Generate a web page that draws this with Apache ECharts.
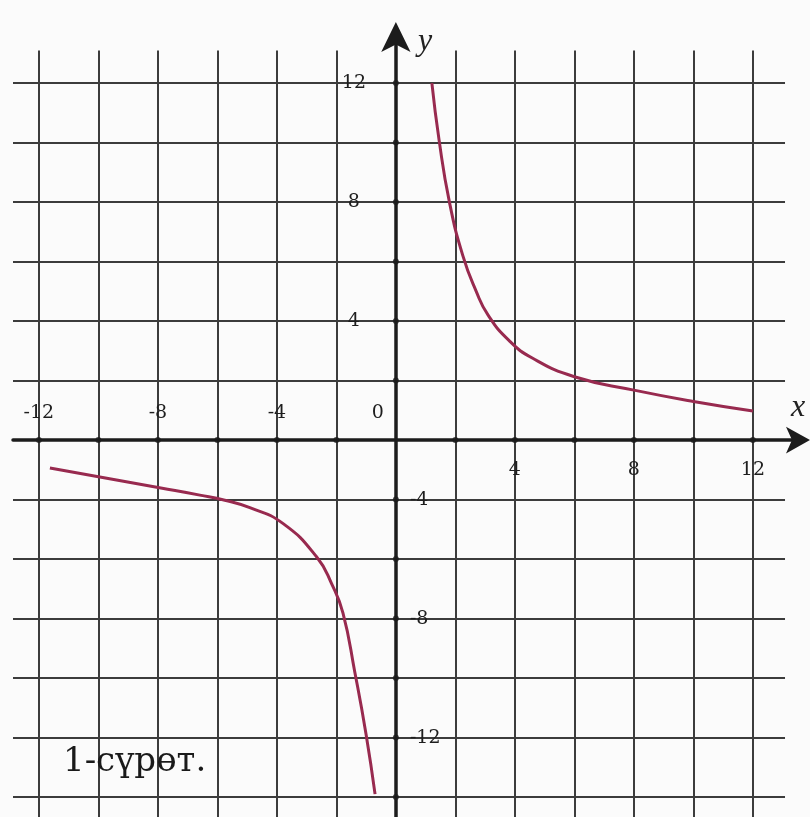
<!DOCTYPE html>
<html>
<head>
<meta charset="utf-8">
<script src="https://cdn.jsdelivr.net/npm/echarts@6/dist/echarts.min.js"></script>
<style>
  html, body { margin: 0; padding: 0; background: #fbfbfb; }
  #chart { width: 810px; height: 817px; }
</style>
</head>
<body>
<div id="chart"></div>
<script>
// Ruled paper: one line every 2 units
const gridX = [-12, -10, -8, -6, -4, -2, 2, 4, 6, 8, 10, 12];
const gridY = [-12, -10, -8, -6, -4, -2, 2, 4, 6, 8, 10, 12];

// Tick labels
const xLabelsBelow = [4, 8, 12];
const xLabelsAbove = [-12, -8, -4, 0];
const yLabelsLeft = [4, 8, 12];
const yLabelsRightPos = [-2, -6, -10];
const yLabelsRightText = ['-4', '-8', '-12'];

// Hyperbola, right branch
const rightX = [1.21, 1.45, 1.8, 2.25, 2.7, 3.1, 3.8, 4.6, 6.0, 8, 10, 12];
const rightY = [12, 10.1, 8.0, 6.2, 5.0, 4.2, 3.35, 2.75, 2.13, 1.68, 1.3, 0.98];

// Hyperbola, left branch
const leftX = [-11.63, -9.95, -7.9, -6.59, -5.75, -4.91, -3.8, -2.66, -2.15, -1.78, -1.38, -1.0, -0.7];
const leftY = [-0.94, -1.24, -1.61, -1.85, -2.02, -2.27, -2.8, -3.93, -4.85, -5.81, -7.8, -9.9, -11.9];

const caption = '1-сүрөт.';

// Axis extents, scale and how far the ruled lines reach
const X_MIN = -12.87, X_MAX = 13.55;
const Y_MIN = -12.67, Y_MAX = 13.55;
const PX = 29.75;                       // pixels per unit on both axes
const RULE_TOP = 13.1, RULE_RIGHT = 13.08;

const INK = '#1c1c1c';
const RULE = '#3c3c3c';
const CURVE = '#982a4f';
const labelFont = { fontFamily: 'DejaVu Serif', fontSize: 19, color: '#1e1e1e' };
const nameFont = { fontFamily: 'Liberation Serif', fontStyle: 'italic', fontSize: 32, color: '#222' };

const zip = (xs, ys) => xs.map((x, i) => [x, ys[i]]);

const ruleLines = [
  ...gridX.map(v => [{ coord: [v, RULE_TOP] }, { coord: [v, Y_MIN] }]),
  ...gridY.map(v => [{ coord: [X_MIN, v] }, { coord: [RULE_RIGHT, v] }])
];

const tickDots = [...gridX.map(v => [v, 0]), ...gridY.map(v => [0, v])];

// label-only axes, pushed in from the grid edges to sit on the zero lines
const labelAxisBase = (min, max) => ({
  type: 'value', min, max, z: 10,
  axisLine: { show: false, onZero: false },
  axisTick: { show: false },
  splitLine: { show: false }
});

const chart = echarts.init(document.getElementById('chart'));
chart.setOption({
  animation: false,
  backgroundColor: '#fbfbfb',
  title: {
    text: caption,
    left: 58,
    top: 740,
    textStyle: { fontFamily: 'DejaVu Serif', fontSize: 34, fontWeight: 'normal', color: '#1a1a1a' }
  },
  grid: {
    left: 13, top: 37,
    width: (X_MAX - X_MIN) * PX,
    height: (Y_MAX - Y_MIN) * PX,
    outerBoundsMode: 'none'
  },
  xAxis: [
    {
      type: 'value', min: X_MIN, max: X_MAX, z: 10,
      axisLine: { onZero: true, symbol: ['none', 'arrow'], symbolSize: [20, 24], symbolOffset: [0, 11],
                  lineStyle: { color: INK, width: 3.5 } },
      axisTick: { show: false },
      splitLine: { show: false },
      axisLabel: { show: false },
      name: 'x', nameLocation: 'end', nameGap: -1,
      nameTextStyle: { ...nameFont, align: 'center', verticalAlign: 'bottom', padding: [0, 0, 17, 0] }
    },
    {
      ...labelAxisBase(X_MIN, X_MAX), position: 'bottom', offset: Y_MIN * PX,
      axisLabel: { customValues: xLabelsBelow, margin: 20, ...labelFont }
    },
    {
      ...labelAxisBase(X_MIN, X_MAX), position: 'top', offset: -Y_MAX * PX,
      axisLabel: {
        customValues: xLabelsAbove, margin: 18, ...labelFont,
        formatter: v => (v === 0 ? '{o|0}' : String(v)),
        rich: { o: { ...labelFont, padding: [0, 36, 0, 0] } }
      }
    }
  ],
  yAxis: [
    {
      type: 'value', min: Y_MIN, max: Y_MAX, z: 10,
      axisLine: { onZero: true, symbol: ['none', 'arrow'], symbolSize: [22, 30], symbolOffset: [0, 15],
                  lineStyle: { color: INK, width: 3.5 } },
      axisTick: { show: false },
      splitLine: { show: false },
      axisLabel: { show: false },
      name: 'y', nameLocation: 'end', nameGap: -5,
      nameTextStyle: { ...nameFont, align: 'left', verticalAlign: 'middle', padding: [0, 0, 0, 22] }
    },
    {
      ...labelAxisBase(Y_MIN, Y_MAX), position: 'left', offset: X_MIN * PX,
      axisLabel: { customValues: yLabelsLeft, margin: 42, align: 'center', ...labelFont }
    },
    {
      ...labelAxisBase(Y_MIN, Y_MAX), position: 'right', offset: -X_MAX * PX,
      axisLabel: {
        customValues: yLabelsRightPos, margin: 14, ...labelFont,
        formatter: v => yLabelsRightText[yLabelsRightPos.indexOf(v)]
      }
    }
  ],
  series: [
    {
      name: 'rules', type: 'line', data: [], silent: true, z: 1,
      markLine: {
        silent: true, symbol: ['none', 'none'], label: { show: false },
        lineStyle: { color: RULE, width: 2, type: 'solid' },
        emphasis: { disabled: true },
        data: ruleLines
      }
    },
    {
      name: 'ticks', type: 'scatter', data: tickDots, symbol: 'circle', symbolSize: 6,
      itemStyle: { color: INK }, silent: true, z: 12
    },
    {
      name: 'right', type: 'line', data: zip(rightX, rightY), smooth: 0.5,
      showSymbol: false, lineStyle: { color: CURVE, width: 3 }, z: 5, silent: true
    },
    {
      name: 'left', type: 'line', data: zip(leftX, leftY), smooth: 0.5,
      showSymbol: false, lineStyle: { color: CURVE, width: 3 }, z: 5, silent: true
    }
  ]
});
</script>
</body>
</html>
